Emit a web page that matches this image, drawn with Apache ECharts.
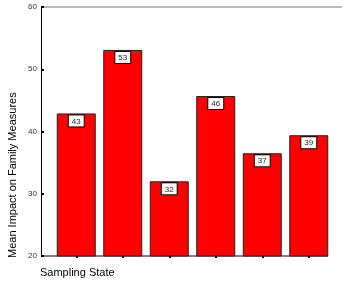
<!DOCTYPE html>
<html>
<head>
<meta charset="utf-8">
<script src="https://cdn.jsdelivr.net/npm/echarts@6/dist/echarts.min.js"></script>
<style>
  html, body { margin: 0; padding: 0; background: #fff; }
  #chart { width: 342px; height: 285px; }
</style>
</head>
<body>
<div id="chart"></div>
<script>
// bar heights; labels are the rounded values printed in the boxes
const states = ['S1', 'S2', 'S3', 'S4', 'S5', 'S6'];
const meanImpact = [42.9, 53.1, 32.0, 45.7, 36.5, 39.4];
const yTicks = [20, 30, 40, 50, 60];

const FONT = 'Liberation Sans, Arial, sans-serif';
const chart = echarts.init(document.getElementById('chart'), null, { renderer: 'canvas' });

chart.setOption({
  animation: false,
  textStyle: { fontFamily: FONT },
  grid: { left: 53, right: 10, top: 7, bottom: 29 },
  xAxis: {
    type: 'category', data: states,
    axisLine: { show: false },
    axisTick: { show: true, alignWithLabel: true, length: 2, lineStyle: { color: '#000', width: 2 } },
    axisLabel: { show: false },
  },
  yAxis: {
    type: 'value', min: yTicks[0], max: yTicks[yTicks.length - 1], interval: 10, offset: 12,
    axisLine: { show: true, lineStyle: { color: '#000', width: 1 } },
    axisTick: { show: true, length: 3, inside: true, lineStyle: { color: '#000', width: 2 } },
    axisLabel: { fontSize: 8, color: '#333', margin: 4, fontFamily: FONT },
    splitLine: { show: false },
  },
  series: [{
    type: 'bar', data: meanImpact, barWidth: 39,
    itemStyle: { color: '#ff0000', borderColor: '#222', borderWidth: 1 },
    label: {
      show: true, position: 'insideTop', distance: 2,
      formatter: (p) => Math.round(p.value),
      backgroundColor: '#fff', borderColor: '#000', borderWidth: 1,
      padding: [2, 3, 1, 3], fontSize: 8, color: '#222', fontFamily: FONT,
    },
  }],
  graphic: [
    // frame: grey top rule, black baseline
    { type: 'line', shape: { x1: 41, y1: 7, x2: 342, y2: 7 }, style: { stroke: '#777', lineWidth: 1 } },
    { type: 'line', shape: { x1: 41, y1: 256, x2: 328, y2: 256 }, style: { stroke: '#000', lineWidth: 1 } },
    { type: 'text', left: 40, top: 267, style: { text: 'Sampling State', fill: '#000', font: '11px ' + FONT } },
    { type: 'text', x: 7, y: 258, rotation: Math.PI / 2,
      style: { text: 'Mean Impact on Family Measures', fill: '#000', font: '11px ' + FONT, textAlign: 'left', textVerticalAlign: 'top' } },
  ],
});
</script>
</body>
</html>
